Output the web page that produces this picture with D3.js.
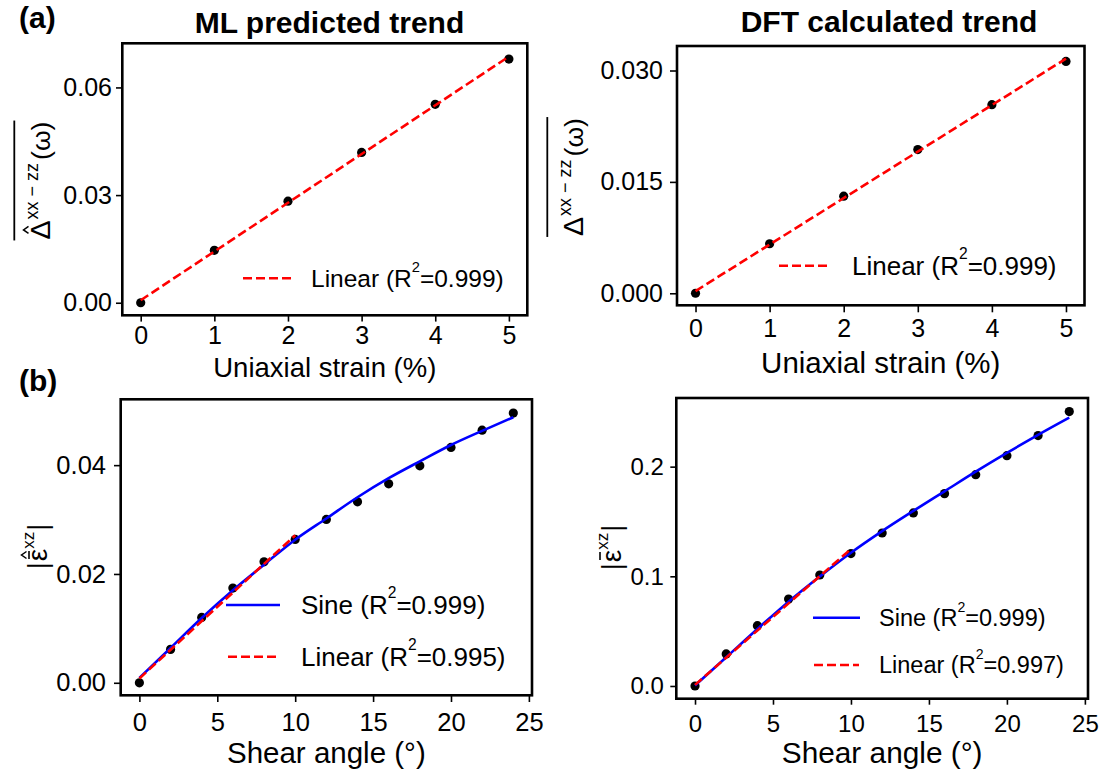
<!DOCTYPE html>
<html><head><meta charset="utf-8">
<script src="https://cdn.jsdelivr.net/npm/d3@7"></script>
<style>
body{margin:0;background:#fff;}
svg text{font-family:"Liberation Sans",Arial,sans-serif;fill:#000;}
</style></head><body>
<svg id="fig" width="1103" height="771"></svg>
<script>
// ---- (a) uniaxial strain ----
const strain = [0, 1, 2, 3, 4, 5];
const mlAniso = [0.0000, 0.0146, 0.0283, 0.0419, 0.0553, 0.0679];
const dftAniso = [0.0000, 0.00667, 0.01308, 0.01935, 0.0254, 0.03122];
// linear fits (end points)
const strainFitX = [0, 5];
const mlAnisoFit = [0.0007, 0.0686];
const dftAnisoFit = [0.0003, 0.0316];

// ---- (b) shear angle ----
const shear = [0, 2, 4, 6, 8, 10, 12, 14, 16, 18, 20, 22, 24];
const mlEps = [0.0000, 0.00614, 0.01202, 0.0174, 0.02223, 0.02635, 0.03002, 0.03326, 0.03656, 0.03987, 0.04325, 0.04643, 0.04956];
const dftEps = [0.0000, 0.0292, 0.0550, 0.0793, 0.1012, 0.1207, 0.1395, 0.1578, 0.1754, 0.1927, 0.2100, 0.2283, 0.2502];
// sine fits sampled at the shear angles
const mlEpsSine = [0.0009, 0.0064, 0.0119, 0.0170, 0.0217, 0.0263, 0.0302, 0.0341, 0.0376, 0.0407, 0.0437, 0.0463, 0.0488];
const dftEpsSine = [0.0005, 0.0262, 0.0520, 0.0769, 0.0998, 0.1215, 0.1412, 0.1596, 0.1775, 0.1954, 0.2125, 0.2290, 0.2447];
// linear fits over the small-angle range (end points)
const shearLinX = [0, 10];
const mlEpsLin = [0.0008, 0.0271];
const dftEpsLin = [0.0010, 0.1249];

// ---- ticks ----
const strainTicks = [0, 1, 2, 3, 4, 5];
const shearTicks = [0, 5, 10, 15, 20, 25];
const mlAnisoTicks = [0, 0.03, 0.06];
const dftAnisoTicks = [0, 0.015, 0.03];
const mlEpsTicks = [0, 0.02, 0.04];
const dftEpsTicks = [0, 0.1, 0.2];

const svg = d3.select("#fig");
const RED = "#ff0000", BLUE = "#0000ff";

const panels = [
  { box: [122.3, 43.3, 527.3, 315.3], xd: [-0.25, 5.25], yd: [-0.0035, 0.0723],
    x: strain, y: mlAniso, xt: strainTicks, yt: mlAnisoTicks, yf: ".2f",
    fits: [{ x: strainFitX, y: mlAnisoFit, c: RED, dash: true }],
    tick: 6.3, xpad: 4.5, ypad: 4, tfs: 25, xtitle: "Uniaxial strain (%)", xtfs: 27.5, xtb: 377,
    legend: [{ x1: 243, x2: 291, y: 278.3, c: RED, dash: true, tx: 311, tb: 287, fs: 24.5, name: "Linear", r2: "0.999" }] },
  { box: [677, 46, 1084.5, 305.3], xd: [-0.25, 5.25], yd: [-0.00162, 0.0333],
    x: strain, y: dftAniso, xt: strainTicks, yt: dftAnisoTicks, yf: ".3f",
    fits: [{ x: strainFitX, y: dftAnisoFit, c: RED, dash: true }],
    tick: 7, xpad: 7, ypad: 7, tfs: 25, xtitle: "Uniaxial strain (%)", xtfs: 29.5, xtb: 373,
    legend: [{ x1: 779, x2: 831, y: 265.7, c: RED, dash: true, tx: 852, tb: 275, fs: 26, name: "Linear", r2: "0.999" }] },
  { box: [120.7, 399.3, 532, 695.3], xd: [-1.2, 25.2], yd: [-0.0023, 0.0521],
    x: shear, y: mlEps, xt: shearTicks, yt: mlEpsTicks, yf: ".2f",
    fits: [{ x: shear, y: mlEpsSine, c: BLUE, dash: false }, { x: shearLinX, y: mlEpsLin, c: RED, dash: true }],
    tick: 6.7, xpad: 11, ypad: 8, tfs: 25.5, xtitle: "Shear angle (°)", xtfs: 29.5, xtb: 763,
    legend: [{ x1: 226, x2: 280, y: 605, c: BLUE, dash: false, tx: 301, tb: 613.5, fs: 26, name: "Sine", r2: "0.999" },
             { x1: 228, x2: 279, y: 656.7, c: RED, dash: true, tx: 301, tb: 666, fs: 26, name: "Linear", r2: "0.995" }] },
  { box: [676.3, 398, 1088, 698.7], xd: [-1.2, 25.2], yd: [-0.0116, 0.2626],
    x: shear, y: dftEps, xt: shearTicks, yt: dftEpsTicks, yf: ".1f",
    fits: [{ x: shear, y: dftEpsSine, c: BLUE, dash: false }, { x: shearLinX, y: dftEpsLin, c: RED, dash: true }],
    tick: 6, xpad: 10, ypad: 6.5, tfs: 24, xtitle: "Shear angle (°)", xtfs: 29.8, xtb: 763,
    legend: [{ x1: 813, x2: 860, y: 617.7, c: BLUE, dash: false, tx: 879, tb: 626, fs: 23.5, name: "Sine", r2: "0.999" },
             { x1: 814, x2: 859, y: 665, c: RED, dash: true, tx: 879, tb: 673, fs: 23.5, name: "Linear", r2: "0.997" }] }
];

function supText(sel, x, y, fs, name, r2) {
  const t = sel.append("text").attr("x", x).attr("y", y).attr("font-size", fs);
  t.append("tspan").text(name + " (R");
  t.append("tspan").attr("font-size", fs * 0.6).attr("dy", -fs * 0.6).text("2");
  t.append("tspan").attr("dy", fs * 0.6).text("=" + r2 + ")");
}

panels.forEach(p => {
  const [x0, y0, x1, y1] = p.box;
  const xs = d3.scaleLinear().domain(p.xd).range([x0, x1]);
  const ys = d3.scaleLinear().domain(p.yd).range([y1, y0]);
  const g = svg.append("g");

  // points
  g.selectAll("circle.pt").data(p.x.map((v, i) => [v, p.y[i]])).join("circle")
    .attr("class", "pt").attr("cx", d => xs(d[0])).attr("cy", d => ys(d[1])).attr("r", 4.6).attr("fill", "#000");

  // fitted curves
  const line = d3.line().x(d => xs(d[0])).y(d => ys(d[1])).curve(d3.curveMonotoneX);
  p.fits.forEach(f => {
    g.append("path").datum(f.x.map((v, i) => [v, f.y[i]])).attr("d", line)
      .attr("fill", "none").attr("stroke", f.c).attr("stroke-width", 2.6)
      .attr("stroke-dasharray", f.dash ? "9,4" : null);
  });

  // axes
  const ax = g.append("g").attr("transform", `translate(0,${y1})`)
    .call(d3.axisBottom(xs).tickValues(p.xt).tickFormat(d3.format("d")).tickSize(p.tick).tickPadding(p.xpad));
  const ay = g.append("g").attr("transform", `translate(${x0},0)`)
    .call(d3.axisLeft(ys).tickValues(p.yt).tickFormat(d3.format(p.yf)).tickSize(p.tick).tickPadding(p.ypad));
  [ax, ay].forEach(a => {
    a.select(".domain").remove();
    a.selectAll(".tick line").attr("stroke", "#000").attr("stroke-width", 1.6);
    a.selectAll(".tick text").attr("font-size", p.tfs).attr("font-family", "Liberation Sans, Arial, sans-serif").attr("fill", "#000");
  });

  // frame
  g.append("rect").attr("x", x0).attr("y", y0).attr("width", x1 - x0).attr("height", y1 - y0)
    .attr("fill", "none").attr("stroke", "#000").attr("stroke-width", 2.6);

  // x title
  g.append("text").attr("x", (x0 + x1) / 2).attr("y", p.xtb).attr("text-anchor", "middle")
    .attr("font-size", p.xtfs).text(p.xtitle);

  // legend
  p.legend.forEach(l => {
    g.append("line").attr("x1", l.x1).attr("x2", l.x2).attr("y1", l.y).attr("y2", l.y)
      .attr("stroke", l.c).attr("stroke-width", 2.6).attr("stroke-dasharray", l.dash ? "9,4" : null);
    supText(g, l.tx, l.tb, l.fs, l.name, l.r2);
  });
});

// titles and panel tags
svg.append("text").attr("x", 329.5).attr("y", 33).attr("text-anchor", "middle")
  .attr("font-size", 30).attr("font-weight", "bold").text("ML predicted trend");
svg.append("text").attr("x", 889).attr("y", 32).attr("text-anchor", "middle")
  .attr("font-size", 30).attr("font-weight", "bold").text("DFT calculated trend");
svg.append("text").attr("x", 19).attr("y", 28).attr("font-size", 30).attr("font-weight", "bold").text("(a)");
svg.append("text").attr("x", 19).attr("y", 391).attr("font-size", 30).attr("font-weight", "bold").text("(b)");

// rotated math labels laid out piece by piece
function mathLabel(spec) {
  const g = svg.append("g").attr("transform", `translate(${spec.x},${spec.y}) rotate(-90)`);
  let cur = 0;
  const items = spec.parts.map(p => {
    cur += p.gap || 0;
    const t = g.append("text").attr("y", -(p.raise || 0)).attr("font-size", p.size).text(p.text);
    const w = t.node().getComputedTextLength();
    const it = { t, x0: cur, w, p };
    cur += w;
    return it;
  });
  const shift = -cur / 2;
  items.forEach(it => {
    it.t.attr("x", it.x0 + shift);
    const mid = it.x0 + shift + it.w / 2;
    if (it.p.bar) g.append("line").attr("x1", mid - it.p.barW / 2).attr("x2", mid + it.p.barW / 2)
      .attr("y1", -it.p.bar).attr("y2", -it.p.bar).attr("stroke", "#000").attr("stroke-width", 1.6);
    if (it.p.hat) g.append("path")
      .attr("d", `M${mid - it.p.hatW / 2},${-it.p.hat + 3.5}L${mid},${-it.p.hat - 1.5}L${mid + it.p.hatW / 2},${-it.p.hat + 3.5}`)
      .attr("fill", "none").attr("stroke", "#000").attr("stroke-width", 1.5);
  });
  if (spec.overline) g.append("line").attr("x1", shift - 1).attr("x2", -shift + 1)
    .attr("y1", -spec.overline).attr("y2", -spec.overline).attr("stroke", "#000").attr("stroke-width", 1.8);
}

mathLabel({ x: 50, y: 180.5, overline: 35.7, parts: [
  { text: "Δ", size: 28.5, hat: 25, hatW: 7 },
  { text: "xx − zz", size: 18, raise: 12.5, gap: 1 },
  { text: "(ω)", size: 26.5, gap: 3 } ] });
mathLabel({ x: 583, y: 177, overline: 35.7, parts: [
  { text: "Δ", size: 28.5 },
  { text: "xx − zz", size: 18, raise: 12.5, gap: 1 },
  { text: "(ω)", size: 26.5, gap: 3 } ] });
mathLabel({ x: 47, y: 546.5, parts: [
  { text: "|", size: 27 },
  { text: "ε", size: 28, bar: 18, barW: 8, hat: 24, hatW: 7, gap: 1 },
  { text: "xz", size: 17, raise: 13 },
  { text: "|", size: 27, gap: 1 } ] });
mathLabel({ x: 621, y: 547.5, parts: [
  { text: "|", size: 27 },
  { text: "ε", size: 28, bar: 21, barW: 8, gap: 1 },
  { text: "xz", size: 17, raise: 13 },
  { text: "|", size: 27, gap: 1 } ] });
</script>
</body></html>
